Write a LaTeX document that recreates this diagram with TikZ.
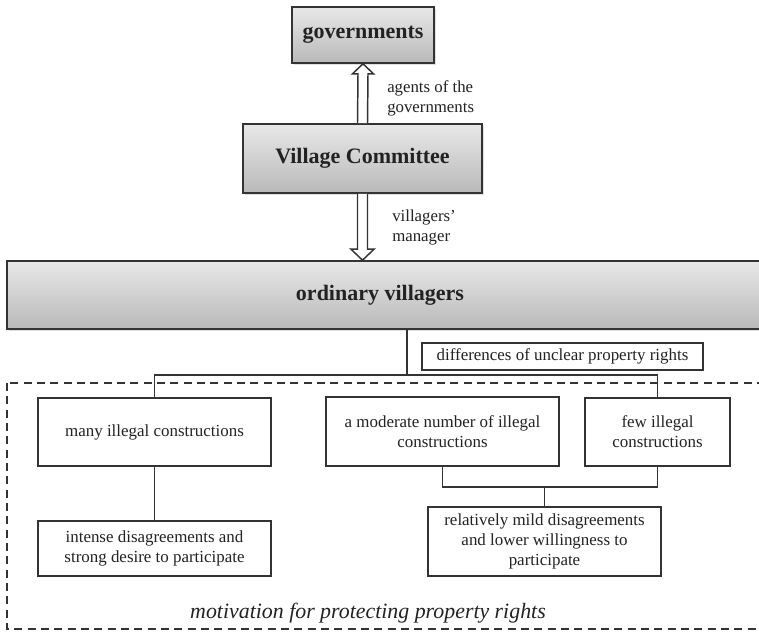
\documentclass[tikz,border=0pt]{standalone}
\usepackage{fontspec}
\setmainfont{Liberation Serif}
\usetikzlibrary{calc,shadows}
\definecolor{edge}{HTML}{333333}
\definecolor{ink}{HTML}{222222}
\definecolor{shadetop}{HTML}{E8E8E8}
\definecolor{shadebot}{HTML}{B9B9B9}
\begin{document}
\begin{tikzpicture}[x=0.75pt,y=-0.75pt,
  every node/.style={text=ink},
  headbox/.style={draw=edge, line width=1.2pt, top color=shadetop, bottom color=shadebot,
    inner sep=0pt, font=\fontsize{16.5}{19}\selectfont\bfseries,
    drop shadow={shadow xshift=1.5pt, shadow yshift=-1.5pt, opacity=0.25}},
  plainbox/.style={draw=edge, line width=1.1pt, fill=white, inner sep=0pt, align=center,
    font=\fontsize{12.7}{15}\selectfont},
  tagtext/.style={anchor=west, align=left, inner sep=0pt, font=\fontsize{12.6}{15}\selectfont},
  link/.style={draw=edge, line width=1.1pt},
  hollow/.style={draw=edge, line width=1.1pt, fill=white, line join=miter},
  frame/.style={draw=edge, line width=1pt, dash pattern=on 6pt off 4pt}]
\useasboundingbox (0,0) rectangle (759,632);
\clip (0,0) rectangle (759,632);

% upper hierarchy
\node[headbox, minimum width=142*0.75pt, minimum height=56*0.75pt] (gov) at (363,35) {governments};
\node[headbox, minimum width=239*0.75pt, minimum height=69*0.75pt] (vc) at (362.5,158.5) {Village Committee};
\node[headbox, minimum width=790*0.75pt, minimum height=68*0.75pt] (vill) at (402,295) {};
\node[inner sep=0pt, font=\fontsize{16.5}{19}\selectfont\bfseries] (villtext) at (380,295) {ordinary villagers};

% hollow arrow up to the governments
\draw[hollow] ($(vc.north)+(-5,0)$) -- ($(gov.south)+(-5,10)$) -- ($(gov.south)+(-10.5,10)$)
  -- (gov.south) -- ($(gov.south)+(10.5,10)$) -- ($(gov.south)+(5,10)$) -- ($(vc.north)+(5,0)$);
\node[tagtext] (agents) at (387,98) {agents of the\\governments};

% hollow arrow down to the villagers
\coordinate (tipdown) at (vc.south |- vill.north);
\draw[hollow] ($(vc.south)+(-5,0)$) -- ($(tipdown)+(-5,-11)$) -- ($(tipdown)+(-11.5,-11)$)
  -- (tipdown) -- ($(tipdown)+(11.5,-11)$) -- ($(tipdown)+(5,-11)$) -- ($(vc.south)+(5,0)$);
\node[tagtext] (manager) at (392,227) {villagers'\\manager};

% property-rights split
\node[plainbox, minimum width=281*0.75pt, minimum height=27*0.75pt] (diff) at (562.5,356.5)
  {differences of unclear property rights};

\draw[frame] (7,383) rectangle (800,629);
\node[inner sep=0pt, font=\fontsize{16.4}{19}\selectfont\itshape] (motiv) at (368,613)
  {motivation for protecting property rights};

\node[plainbox, minimum width=233*0.75pt, minimum height=68*0.75pt] (many) at (154.5,432)
  {many illegal constructions};
\node[plainbox, minimum width=233*0.75pt, minimum height=55*0.75pt] (intense) at (154.5,548.5)
  {intense disagreements and\\strong desire to participate};
\node[plainbox, minimum width=233*0.75pt, minimum height=69*0.75pt] (mod) at (442.5,431.5)
  {a moderate number of illegal\\constructions};
\node[plainbox, minimum width=145*0.75pt, minimum height=68*0.75pt] (few) at (657.5,432)
  {few illegal\\constructions};
\node[plainbox, minimum width=233*0.75pt, minimum height=69*0.75pt] (rel) at (544.5,541.5)
  {relatively mild disagreements\\and lower willingness to\\participate};

% connectors
\coordinate (split) at (407,375);
\coordinate (merge) at (544.5,487);
\draw[link] (vill.south -| split) -- (split);
\draw[link] (many.north) |- (split) -| (few.north);
\draw[link] (many.south) -- (intense.north);
\draw[link] (mod.south) |- (merge) -| (few.south);
\draw[link] (merge) -- (rel.north);
\end{tikzpicture}
\end{document}
